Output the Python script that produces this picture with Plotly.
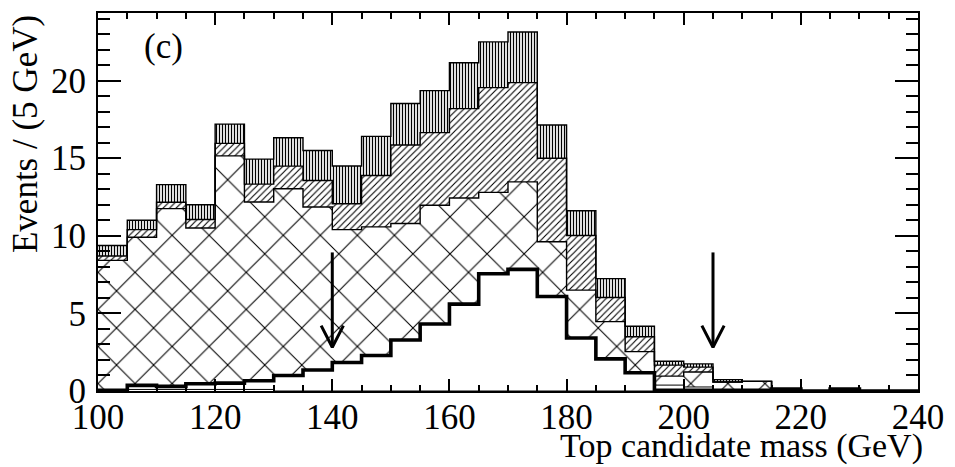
import numpy as np
import plotly.graph_objects as go

# 5 GeV bins: lower edges
bin_low = [100, 105, 110, 115, 120, 125, 130, 135, 140, 145, 150, 155, 160, 165,
           170, 175, 180, 185, 190, 195, 200, 205, 210, 215, 220, 225, 230, 235]
BIN_W = 5
X_MAX = 240

# events per bin for each component
signal = [0.05, 0.36, 0.30, 0.47, 0.51, 0.66, 1.00, 1.35,
          1.84, 2.29, 3.29, 4.32, 5.60, 7.56, 7.84, 6.09,
          3.42, 2.07, 1.18, 0.05, 0.05, 0.05, 0.05, 0.12,
          0.00, 0.12, 0.00, 0.00]
other = [0.00, 0.10, 0.10, 0.10, 0.10, 0.10, 0.00, 0.00,
         0.00, 0.00, 0.00, 0.00, 0.00, 0.00, 0.00, 0.00,
         0.00, 0.00, 0.00, 0.38, 0.26, 0.00, 0.00, 0.00,
         0.00, 0.00, 0.00, 0.00]
comp_cross = [8.37, 9.55, 11.45, 10.03, 14.64, 11.52, 12.03, 10.51,
              8.56, 8.29, 7.50, 7.65, 6.84, 5.24, 5.64, 3.53,
              3.08, 2.40, 1.36, 0.58, 0.96, 0.53, 0.57, 0.00,
              0.00, 0.00, 0.00, 0.00]
comp_diag = [0.28, 0.49, 0.41, 0.55, 0.81, 1.15, 1.46, 1.71,
             1.67, 3.31, 5.06, 4.68, 5.76, 6.75, 6.39, 5.38,
             3.52, 1.56, 0.96, 0.71, 0.32, 0.00, 0.00, 0.00,
             0.00, 0.00, 0.00, 0.00]
comp_vert = [0.68, 0.60, 1.14, 0.95, 1.24, 1.61, 1.83, 1.93,
             2.43, 2.52, 2.68, 2.71, 2.95, 2.95, 3.27, 2.14,
             1.60, 1.21, 0.67, 0.25, 0.21, 0.15, 0.00, 0.00,
             0.00, 0.00, 0.00, 0.00]

# selection cut positions (GeV)
cuts = [140, 205]

panel_label = "(c)"
x_title = "Top candidate mass (GeV)"
y_title = "Events / (5 GeV)"

FONT = "Liberation Serif, Times New Roman, serif"
FS = 35

centers = np.array(bin_low) + BIN_W / 2
edges = list(bin_low) + [X_MAX]

base = np.maximum(np.array(signal), np.array(other))
top_cross = base + np.array(comp_cross)
top_diag = top_cross + np.array(comp_diag)
top_total = top_diag + np.array(comp_vert)

fig = go.Figure()


def add_layer(values, pattern):
    marker = dict(color="white", line=dict(width=0))
    if pattern is not None:
        marker["pattern"] = pattern
    fig.add_trace(go.Bar(x=centers, y=values, width=BIN_W, marker=marker,
                         showlegend=False, hoverinfo="skip"))


add_layer(base, None)
add_layer(comp_cross, dict(shape="x", size=26.2, solidity=0.08,
                           fgcolor="black", bgcolor="white", fillmode="replace"))
add_layer(comp_diag, dict(shape="/", size=4.6, solidity=0.24,
                          fgcolor="black", bgcolor="white", fillmode="replace"))
add_layer(comp_vert, dict(shape="|", size=3, solidity=0.42,
                          fgcolor="black", bgcolor="white", fillmode="replace"))


def add_step(values, width):
    vals = list(values)
    fig.add_trace(go.Scatter(x=edges, y=vals + [vals[-1]], mode="lines",
                             line=dict(shape="hv", color="black", width=width),
                             showlegend=False, hoverinfo="skip"))


# outlines of the stacked histograms
add_step(top_total, 1.4)
add_step(top_diag, 1.4)
add_step(top_cross, 1.4)
add_step(other, 1.0)
add_step(signal, 3.6)

# arrows marking the cut values
for c in cuts:
    fig.add_trace(go.Scatter(
        x=[c, c, None, c - 1.9, c, c + 1.9],
        y=[8.93, 2.82, None, 4.21, 2.82, 4.21],
        mode="lines", line=dict(color="black", width=3),
        showlegend=False, hoverinfo="skip"))

axis_common = dict(
    showline=True, linecolor="black", linewidth=2, mirror="ticks",
    ticks="inside", tickcolor="black", tickwidth=1.5,
    showgrid=False, zeroline=False,
    tickfont=dict(family=FONT, size=FS, color="black"),
)

fig.update_xaxes(range=[100, X_MAX], tick0=100, dtick=20, ticklen=12,
                 minor=dict(dtick=5, ticks="inside", ticklen=6,
                            tickcolor="black", tickwidth=1.5),
                 ticklabelstandoff=-6, **axis_common)
fig.update_yaxes(range=[0, 24.36], tick0=0, dtick=5, ticklen=23,
                 minor=dict(dtick=1, ticks="inside", ticklen=12,
                            tickcolor="black", tickwidth=1.5),
                 ticklabelstandoff=3, **axis_common)

fig.add_annotation(text=panel_label, x=111.1, y=22.2, xref="x", yref="y",
                   showarrow=False, font=dict(family=FONT, size=FS, color="black"))
fig.add_annotation(text=x_title, x=1.008, y=-0.146, xref="paper", yref="paper",
                   xanchor="right", yanchor="middle", showarrow=False,
                   font=dict(family=FONT, size=34, color="black"))
fig.add_annotation(text=y_title, x=-0.089, y=1.0, xref="paper", yref="paper",
                   xanchor="center", yanchor="top", textangle=-90, showarrow=False,
                   font=dict(family=FONT, size=FS, color="black"))

fig.update_layout(
    width=955, height=467,
    margin=dict(l=98, r=31, t=11, b=76),
    barmode="stack", bargap=0,
    paper_bgcolor="white", plot_bgcolor="white",
    showlegend=False,
)

fig.write_html("out.html")
